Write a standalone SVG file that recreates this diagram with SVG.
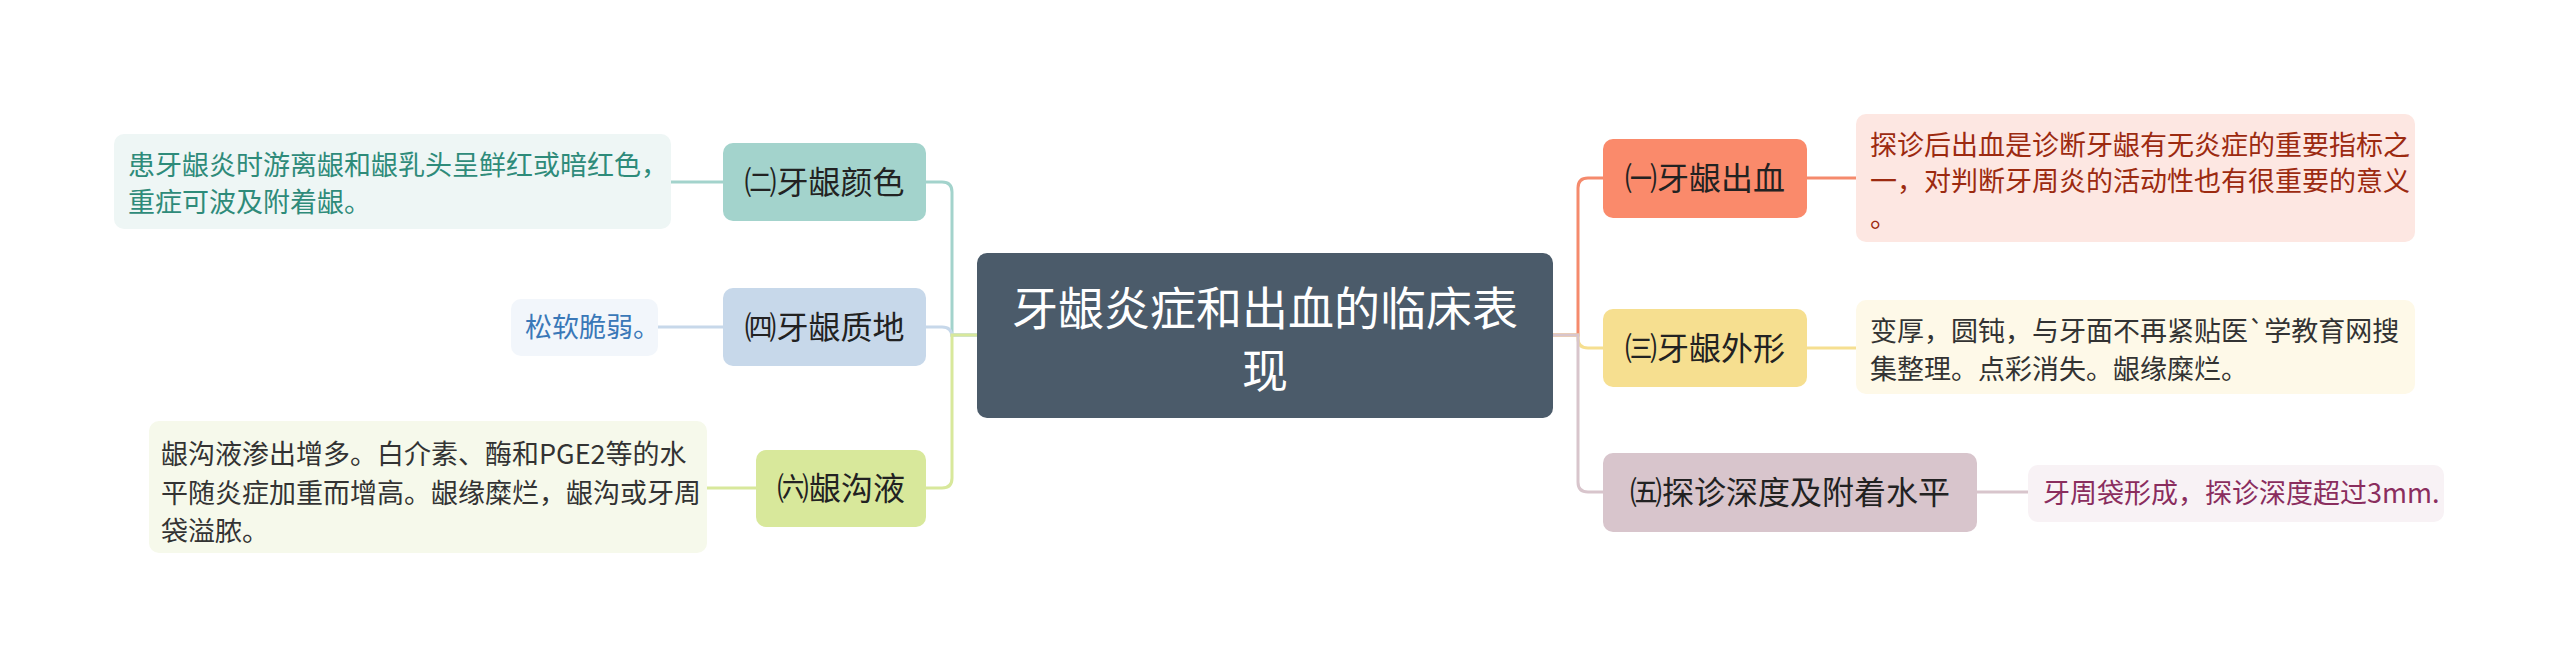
<svg xmlns="http://www.w3.org/2000/svg" width="2560" height="667" viewBox="0 0 2560 667">
<style>
text{font-family:"Noto Sans CJK SC","Noto Sans",sans-serif}
.rt{font-size:46px;fill:#ffffff;text-anchor:middle}
.nt{font-size:32px;fill:#222222;text-anchor:middle}
.dt{font-size:27px}
.c{fill:none;stroke-width:3;stroke-linecap:round}
</style>
<rect width="2560" height="667" fill="#ffffff"/>
<g id="connectors">
<path class="c" stroke="#a3d3cc" d="M977 335 H952 V192 Q952 182 942 182 H926"/>
<path class="c" stroke="#c7d8ea" d="M977 335 H952 V337 Q952 327 942 327 H926"/>
<path class="c" stroke="#d8e89b" d="M977 335 H952 V478 Q952 488 942 488 H926"/>
<path class="c" stroke="#f58a6c" d="M1553 335 H1578 V188 Q1578 178 1588 178 H1603"/>
<path class="c" stroke="#f6df90" d="M1553 335 H1578 V338 Q1578 348 1588 348 H1603"/>
<path class="c" stroke="#d8c5cc" d="M1553 335 H1578 V482 Q1578 492 1588 492 H1603"/>
<path class="c" stroke="#a3d3cc" d="M723 182 H671"/>
<path class="c" stroke="#c7d8ea" d="M723 327 H658"/>
<path class="c" stroke="#d8e89b" d="M756 488 H707"/>
<path class="c" stroke="#f58a6c" d="M1807 178 H1856"/>
<path class="c" stroke="#f6df90" d="M1807 348 H1856"/>
<path class="c" stroke="#d8c5cc" d="M1977 492 H2028"/>
</g>
<g id="root">
<rect x="977" y="253" width="576" height="165" rx="10" fill="#4b5b6a"/>
<text class="rt" x="1265" y="325">牙龈炎症和出血的临床表</text>
<text class="rt" x="1265" y="387">现</text>
</g>
<g id="n2">
<rect x="723" y="143" width="203" height="78" rx="10" fill="#a3d3cc"/>
<text class="nt" x="824.5" y="194">㈡牙龈颜色</text>
</g>
<g id="d2">
<rect x="114" y="134" width="557" height="95" rx="10" fill="#eef6f5"/>
<text class="dt" fill="#2e8b7a" x="128" y="175">患牙龈炎时游离龈和龈乳头呈鲜红或暗红色，</text>
<text class="dt" fill="#2e8b7a" x="128" y="212">重症可波及附着龈。</text>
</g>
<g id="n4">
<rect x="723" y="288" width="203" height="78" rx="10" fill="#c7d8ea"/>
<text class="nt" x="824.5" y="339">㈣牙龈质地</text>
</g>
<g id="d4">
<rect x="511" y="299" width="147" height="57" rx="10" fill="#f2f6fb"/>
<text class="dt" fill="#3a78b8" x="525" y="337">松软脆弱。</text>
</g>
<g id="n6">
<rect x="756" y="450" width="170" height="77" rx="10" fill="#d8e89b"/>
<text class="nt" x="841" y="500">㈥龈沟液</text>
</g>
<g id="d6">
<rect x="149" y="421" width="558" height="132" rx="10" fill="#f6f9eb"/>
<text class="dt" fill="#333333" x="161" y="464">龈沟液渗出增多。白介素、酶和PGE2等的水</text>
<text class="dt" fill="#333333" x="161" y="503">平随炎症加重而增高。龈缘糜烂，龈沟或牙周</text>
<text class="dt" fill="#333333" x="161" y="541">袋溢脓。</text>
</g>
<g id="n1">
<rect x="1603" y="139" width="204" height="79" rx="10" fill="#fa8a6b"/>
<text class="nt" x="1705" y="190">㈠牙龈出血</text>
</g>
<g id="d1">
<rect x="1856" y="114" width="559" height="128" rx="10" fill="#fde7e2"/>
<text class="dt" fill="#9c2a10" x="1870" y="155">探诊后出血是诊断牙龈有无炎症的重要指标之</text>
<text class="dt" fill="#9c2a10" x="1870" y="191">一，对判断牙周炎的活动性也有很重要的意义</text>
<text class="dt" fill="#9c2a10" x="1870" y="227">。</text>
</g>
<g id="n3">
<rect x="1603" y="309" width="204" height="78" rx="10" fill="#f6df90"/>
<text class="nt" x="1705" y="360">㈢牙龈外形</text>
</g>
<g id="d3">
<rect x="1856" y="300" width="559" height="94" rx="10" fill="#fef9e8"/>
<text class="dt" fill="#333333" x="1870" y="341">变厚，圆钝，与牙面不再紧贴医`学教育网搜</text>
<text class="dt" fill="#333333" x="1870" y="379">集整理。点彩消失。龈缘糜烂。</text>
</g>
<g id="n5">
<rect x="1603" y="453" width="374" height="79" rx="10" fill="#d8c5cc"/>
<text class="nt" x="1790" y="504">㈤探诊深度及附着水平</text>
</g>
<g id="d5">
<rect x="2028" y="465" width="416" height="57" rx="10" fill="#f8f2f5"/>
<text class="dt" fill="#8a2d5e" x="2043" y="503">牙周袋形成，探诊深度超过3mm.</text>
</g>
</svg>
